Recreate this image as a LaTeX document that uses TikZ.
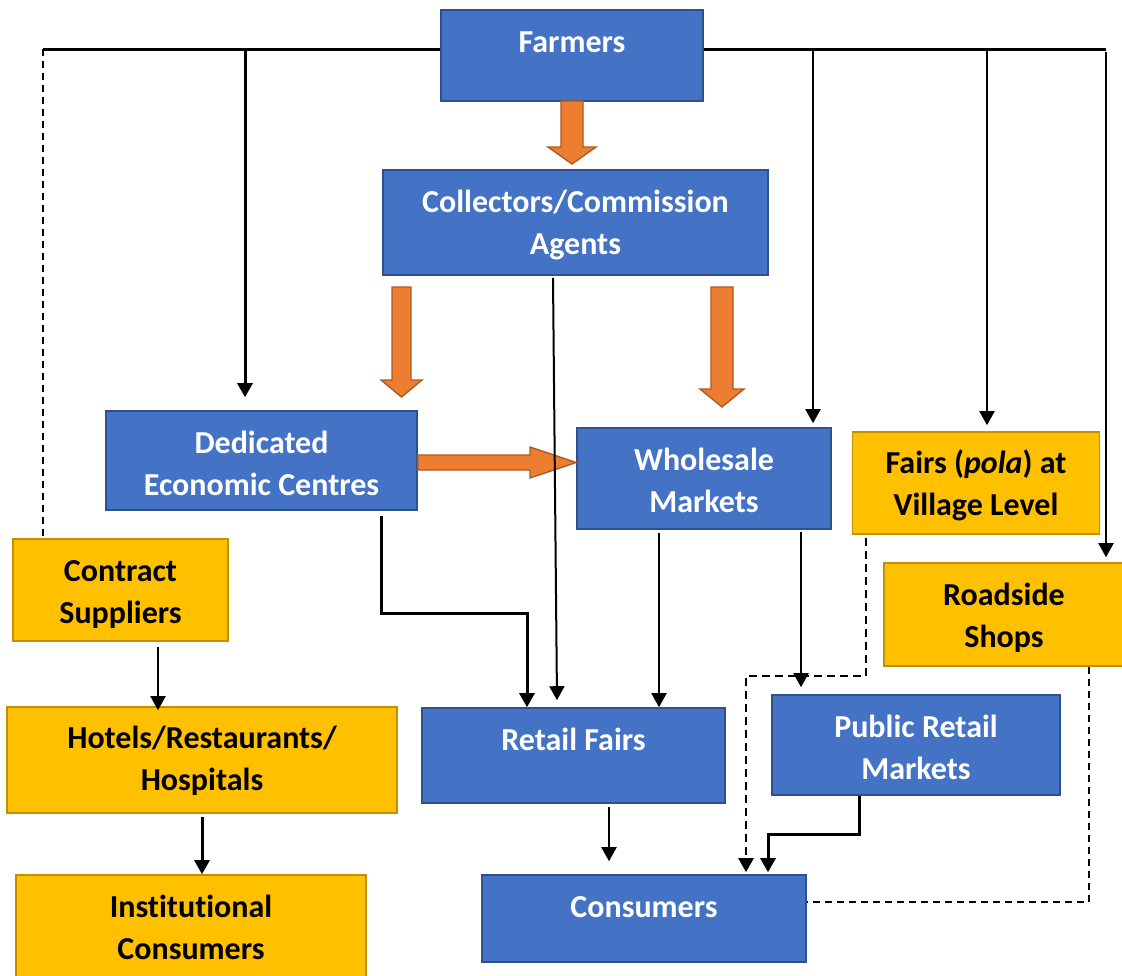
\documentclass[tikz,border=0pt]{standalone}
\usepackage{fontspec}
\setmainfont{Carlito}[Ligatures=NoCommon]
\usetikzlibrary{arrows.meta,calc}

\definecolor{boxblue}{HTML}{4472C4}
\definecolor{blueedge}{HTML}{2F528F}
\definecolor{boxgold}{HTML}{FFC000}
\definecolor{goldedge}{HTML}{BF9000}
\definecolor{flow}{HTML}{ED7D31}
\definecolor{flowedge}{HTML}{AE5A21}

% multi-line label whose baseline is that of its first line
\newcommand\boxtext[1]{\begin{tabular}[t]{@{}c@{}}#1\end{tabular}}

% orange block arrow pointing down: centre x, top, head start, tip, half shaft, half head
\newcommand\blockdown[6]{%
  \draw[blockarrow] (#1-#5,#2) -- (#1+#5,#2) -- (#1+#5,#3) -- (#1+#6,#3)
    -- (#1,#4) -- (#1-#6,#3) -- (#1-#5,#3) -- cycle;}

\tikzset{
  base/.style={rectangle, inner sep=0pt, line width=1.6pt},
  bluebox/.style={base, fill=boxblue, draw=blueedge},
  goldbox/.style={base, fill=boxgold, draw=goldedge},
  label/.style={anchor=base, inner sep=0pt,
    font=\fontsize{32}{42}\selectfont\bfseries},
  onblue/.style={label, text=white},
  ongold/.style={label, text=black},
  blockarrow/.style={fill=flow, draw=flowedge, line width=1.4pt, line join=miter},
  feed/.style={line width=2pt, -{Triangle[length=14pt,width=15pt]}},
  heavy/.style={line width=3pt, -{Triangle[length=14pt,width=15pt]}},
  bus/.style={line width=3pt},
  loose/.style={line width=1.5pt, dash pattern=on 7pt off 5pt},
  loosefeed/.style={line width=2.4pt, dash pattern=on 8pt off 5pt,
    -{Triangle[length=14pt,width=15pt]}},
}

\begin{document}
\begin{tikzpicture}[x=1pt, y=-1pt]
\useasboundingbox (0,0) rectangle (1122,975);
\fill[white] (0,0) rectangle (1122,975);
\clip (0,0) rectangle (1122,975);

% boxes
\node[bluebox, minimum width=262pt, minimum height=91pt]  (farmers)   at (572,55.5)   {};
\node[bluebox, minimum width=385pt, minimum height=105pt] (collect)   at (575.5,222.5) {};
\node[bluebox, minimum width=311pt, minimum height=99pt]  (dec)       at (261.5,460.5) {};
\node[bluebox, minimum width=254pt, minimum height=101pt] (wholesale) at (704,478.5)  {};
\node[goldbox, minimum width=247pt, minimum height=102pt] (fairs)     at (976,483)    {};
\node[goldbox, minimum width=215pt, minimum height=102pt] (contract)  at (120.5,590)  {};
\node[goldbox, minimum width=240pt, minimum height=103pt] (roadside)  at (1004,614.5) {};
\node[goldbox, minimum width=390pt, minimum height=106pt] (hotels)    at (202,760)    {};
\node[goldbox, minimum width=350pt, minimum height=110pt] (inst)      at (191,930)    {};
\node[bluebox, minimum width=303pt, minimum height=95pt]  (retail)    at (573.5,755.5) {};
\node[bluebox, minimum width=288pt, minimum height=100pt] (public)    at (916,745)    {};
\node[bluebox, minimum width=324pt, minimum height=87pt]  (consumers) at (644,918.5)  {};

% labels, first baseline 43pt below each box top
\node[onblue] (farmersT)   at ($(farmers.north)+(0,43)$)   {Farmers};
\node[onblue] (collectT)   at ($(collect.north)+(0,43)$)   {\boxtext{Collectors/Commission\\Agents}};
\node[onblue] (decT)       at ($(dec.north)+(0,43)$)       {\boxtext{Dedicated\\Economic Centres}};
\node[onblue] (wholesaleT) at ($(wholesale.north)+(0,43)$) {\boxtext{Wholesale\\Markets}};
\node[ongold] (fairsT)     at ($(fairs.north)+(0,42)$)     {\boxtext{Fairs (\textit{pola}) at\\Village Level}};
\node[ongold] (contractT)  at ($(contract.north)+(0,43)$)  {\boxtext{Contract\\Suppliers}};
\node[ongold] (roadsideT)  at ($(roadside.north)+(0,43)$)  {\boxtext{Roadside\\Shops}};
\node[ongold] (hotelsT)    at ($(hotels.north)+(0,42)$)    {\boxtext{Hotels/Restaurants/\\Hospitals}};
\node[ongold] (instT)      at ($(inst.north)+(0,43)$)      {\boxtext{Institutional\\Consumers}};
\node[onblue] (retailT)    at ($(retail.north)+(0,43)$)    {Retail Fairs};
\node[onblue] (publicT)    at ($(public.north)+(0,43)$)    {\boxtext{Public Retail\\Markets}};
\node[onblue] (consumersT) at ($(consumers.north)+(0,43)$) {Consumers};

% orange main flows
\blockdown{572}{101}{147}{164}{11}{24}
\blockdown{401.5}{287}{380}{397}{9.5}{20.5}
\blockdown{722}{287}{389}{407}{11}{22}
\draw[blockarrow] (dec.east |- 0,455) -- (530,455) -- (530,447) -- (wholesale.west |- 0,462.5)
  -- (530,478) -- (530,470) -- (dec.east |- 0,470) -- cycle;

% distribution bus from the farmers
\coordinate (busL) at (43,49);
\coordinate (busR) at (1106,49);
\draw[bus] (farmers.west |- busL) -- (busL);
\draw[bus] (farmers.east |- busR) -- (busR);
\draw[loose] (busL) -- (contract.north -| busL);
\draw[heavy, shorten >=13pt] (busL -| 245,0) -- (dec.north -| 245,0);
\draw[feed, shorten >=4pt] (busR -| 813,0) -- (wholesale.north -| 813,0);
\draw[feed, shorten >=6pt] (busR -| 987,0) -- (fairs.north -| 987,0);
\draw[feed, shorten >=5pt] ($(busR)+(0,3)$) -- (roadside.north -| busR);

% intermediate channels
\draw[feed] ($(collect.south -| 553,0)+(0,2)$) -- ($(retail.north -| 557,0)+(0,-7)$);
\draw[heavy] ($(dec.south -| 381,0)+(0,5)$) -- (381,613) -- (527,613) -- (retail.north -| 527,0);
\draw[feed, shorten <=3pt] (wholesale.south -| 659,0) -- (retail.north -| 659,0);
\draw[feed, shorten <=2pt, shorten >=7pt] (wholesale.south -| 801,0) -- (public.north -| 801,0);
\draw[feed] (contract.south -| 158,0) ++(0,5) -- ($(hotels.north -| 158,0)+(0,4)$);
\draw[heavy] (hotels.south -| 202,0) ++(0,3) -- (inst.north -| 202,0);

% retail to consumers
\draw[feed, shorten <=3pt, shorten >=13pt] (retail.south -| 609,0) -- (consumers.north -| 609,0);
\draw[loosefeed, shorten >=2pt] ($(fairs.south -| 866,0)+(0,3)$) -- (866,676) -- (746,676) -- (consumers.north -| 746,0);
\draw[heavy, shorten >=2pt] (public.south -| 859,0) -- (859,834) -- (768,834) -- (consumers.north -| 768,0);
\draw[loose] (roadside.south -| 1089,0) -- (1089,902) -- (consumers.east |- 0,902);

\end{tikzpicture}
\end{document}
